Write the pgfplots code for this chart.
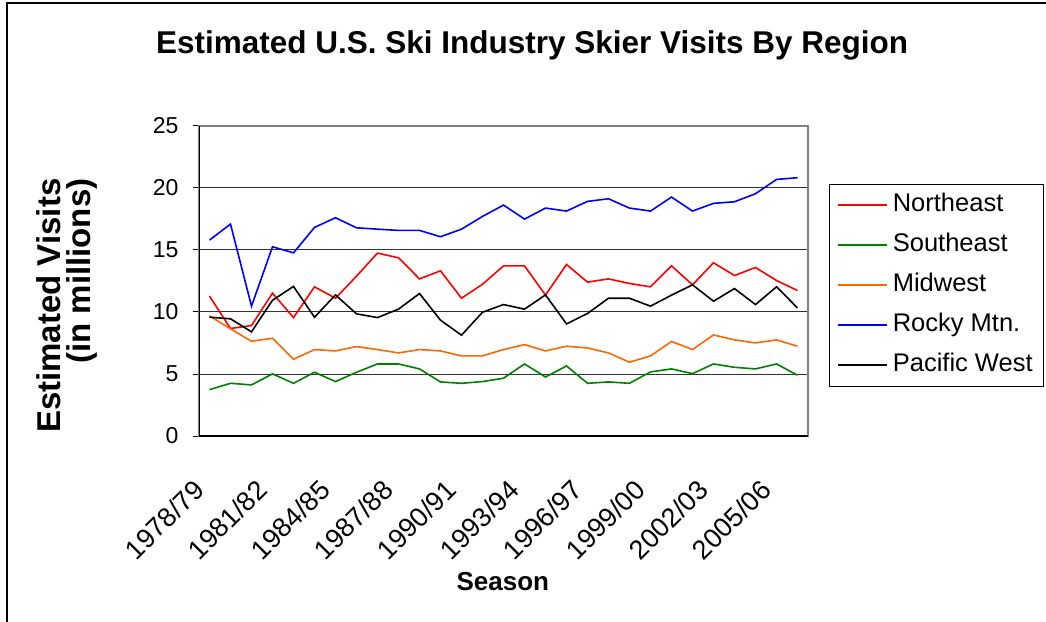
\documentclass[border=0pt]{standalone}
\usepackage{fontspec}
\setmainfont{Liberation Sans}
\usepackage{pgfplots}
\usepackage{pgfplotstable}
\pgfplotsset{compat=1.18}

\definecolor{neRed}{RGB}{255,0,0}
\definecolor{seGreen}{RGB}{0,128,0}
\definecolor{mwOrange}{RGB}{255,102,0}
\definecolor{rmBlue}{RGB}{0,0,255}

% skier visits (millions), seasons 1978/79 .. 2006/07
\pgfplotstableread{
idx NE    SE   MW   RM    PW
0   11.28 3.74 9.69 15.80 9.58
1   8.67  4.25 8.64 17.09 9.45
2   8.91  4.12 7.64 10.47 8.40
3   11.52 5.01 7.88 15.26 10.95
4   9.55  4.25 6.19 14.77 12.06
5   12.03 5.14 6.97 16.82 9.58
6   11.11 4.39 6.86 17.60 11.38
7   12.89 5.14 7.21 16.79 9.85
8   14.75 5.81 6.97 16.68 9.55
9   14.37 5.81 6.70 16.58 10.23
10  12.67 5.41 6.97 16.58 11.49
11  13.32 4.36 6.86 16.07 9.34
12  11.11 4.25 6.46 16.68 8.13
13  12.24 4.39 6.46 17.71 9.98
14  13.72 4.66 6.97 18.62 10.60
15  13.72 5.81 7.37 17.49 10.23
16  11.36 4.76 6.86 18.38 11.38
17  13.83 5.65 7.24 18.14 9.04
18  12.41 4.25 7.10 18.92 9.88
19  12.67 4.36 6.70 19.13 11.11
20  12.30 4.25 5.95 18.38 11.11
21  12.03 5.17 6.46 18.14 10.47
22  13.72 5.41 7.62 19.27 11.36
23  12.19 5.03 6.97 18.14 12.19
24  13.97 5.81 8.15 18.76 10.87
25  12.94 5.54 7.75 18.89 11.89
26  13.59 5.41 7.51 19.54 10.60
27  12.54 5.81 7.75 20.69 12.03
28  11.73 4.90 7.24 20.83 10.33
}\visits

\begin{document}
\begin{tikzpicture}
\path[use as bounding box] (0pt,0pt) rectangle (1046pt,621pt);
\draw[line width=2pt] (7pt,-5pt) -- (7pt,618pt) -- (1060pt,618pt);
\begin{axis}[
    at={(199pt,185pt)}, anchor=south west,
    scale only axis,
    width=609pt, height=310pt,
    xmin=-0.5, xmax=28.5,
    ymin=0, ymax=25,
    xtick=\empty,
    minor xtick={-0.5,0.5,...,28.5},
    extra x ticks={0,3,...,27},
    extra x tick labels={1978/79,1981/82,1984/85,1987/88,1990/91,1993/94,1996/97,1999/00,2002/03,2005/06},
    extra x tick style={tick style={draw=none}},
    ytick={0,5,...,25},
    tick align=outside,
    major tick length=6pt,
    minor tick length=6pt,
    tick style={black, line width=1pt},
    xtick pos=bottom, ytick pos=left,
    ymajorgrids,
    major grid style={black!80, line width=1pt},
    axis line style={draw=gray, line width=1.2pt},
    /pgf/number format/assume math mode=true,
    yticklabel style={font=\fontsize{23}{26}\selectfont, xshift=-11pt},
    xticklabel style={font=\fontsize{27}{30}\selectfont, rotate=45, anchor=north east, inner sep=0pt, xshift=-38pt, yshift=-13pt},
    title={Estimated U.S. Ski Industry Skier Visits By Region},
    title style={font=\fontsize{31.5}{36}\selectfont\bfseries, at={(axis description cs:0.547,1.216)}, anchor=base},
    xlabel={Season},
    xlabel style={font=\fontsize{26}{30}\selectfont\bfseries, at={(axis description cs:0.499,-0.471)}, anchor=center},
    ylabel={Estimated Visits\\(in millions)},
    ylabel style={font=\fontsize{33}{30}\selectfont\bfseries, align=right, at={(axis description cs:-0.216,0.42)}, anchor=center},
    legend cell align=left,
    legend style={at={(1.0345,0.813)}, anchor=north west,
        font=\fontsize{25.5}{28}\selectfont, inner xsep=8pt, inner ysep=1pt,
        nodes={text height=18pt, text depth=5pt, inner ysep=8.5pt, inner xsep=3pt},
        /tikz/every odd column/.style={column sep=2pt}},
    legend image code/.code={\draw[#1] (0pt,0pt) -- (49pt,0pt);},
    every axis plot/.append style={line width=1.6pt, mark=none},
]
\addplot[neRed] table[x=idx, y=NE] {\visits};
\addlegendentry{Northeast}
\addplot[seGreen] table[x=idx, y=SE] {\visits};
\addlegendentry{Southeast}
\addplot[mwOrange] table[x=idx, y=MW] {\visits};
\addlegendentry{Midwest}
\addplot[rmBlue] table[x=idx, y=RM] {\visits};
\addlegendentry{Rocky Mtn.}
\addplot[black] table[x=idx, y=PW] {\visits};
\addlegendentry{Pacific West}
\draw[black, line width=1.2pt] (rel axis cs:0,1) -- (rel axis cs:0,0) -- (rel axis cs:1,0);
\end{axis}
\end{tikzpicture}
\end{document}
